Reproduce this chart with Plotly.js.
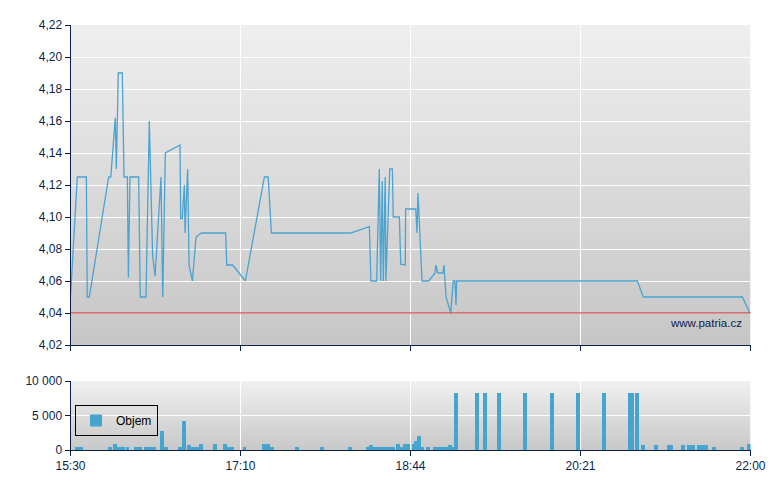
<!DOCTYPE html>
<html>
<head>
<meta charset="utf-8">
<script src="https://cdn.plot.ly/plotly-3.0.1.min.js"></script>
<style>
  html, body { margin: 0; padding: 0; background: #fff; }
  #chart { width: 780px; height: 490px; }
</style>
</head>
<body>
<div id="chart"></div>
<script>
// Price trades: minutes after 15:30 and price.
const priceMinutes = [
  0, 3.9, 9.1, 9.6, 10.8, 21.9, 23.1, 25.7, 26.3, 27.4, 29.7, 30.7, 32.6, 33.2,
  34.1, 39.1, 40.0, 43.3, 45.2, 47.1, 48.5, 51.9, 52.9, 54.4, 62.8, 63.2, 64.1,
  65.3, 65.7, 67.2, 68.0, 69.9, 72.0, 75.0, 89.0, 89.6, 93.0, 100.3, 111.2,
  113.4, 115.2, 160.7, 171.4, 172.3, 175.6, 177.1, 177.9, 178.8, 179.4, 180.5,
  180.9, 183.1, 184.6, 185.1, 188.6, 189.4, 192.0, 192.2, 198.0, 198.7, 199.3,
  201.6, 205.4, 209.1, 209.5, 210.6, 213.6, 214.2, 215.4, 218.1, 219.5, 220.5,
  221.1, 221.5, 325.1, 328.5, 385.3, 389.7
];
const priceValues = [
  4.050, 4.125, 4.125, 4.050, 4.050, 4.125, 4.125, 4.162, 4.130, 4.190, 4.190,
  4.125, 4.125, 4.062, 4.125, 4.125, 4.050, 4.050, 4.160, 4.076, 4.063, 4.125,
  4.050, 4.140, 4.145, 4.099, 4.099, 4.120, 4.090, 4.130, 4.070, 4.060, 4.0875,
  4.090, 4.090, 4.070, 4.070, 4.060, 4.125, 4.125, 4.090, 4.090, 4.094, 4.060,
  4.060, 4.130, 4.060, 4.1225, 4.060, 4.125, 4.060, 4.130, 4.130, 4.100, 4.100,
  4.0705, 4.070, 4.105, 4.105, 4.090, 4.115, 4.060, 4.060, 4.065, 4.070, 4.065,
  4.065, 4.070, 4.050, 4.040, 4.060, 4.060, 4.045, 4.060, 4.060, 4.050, 4.050,
  4.040
];

// Volume bars: minutes after 15:30 and traded volume.
const volumeMinutes = [
  3.7, 6.0, 22.4, 25.5, 27.8, 30.1, 32.7, 37.6, 39.9, 43.3, 45.6, 47.9, 52.5,
  54.8, 62.8, 65.1, 67.7, 70.3, 72.3, 74.8, 82.9, 88.6, 90.6, 92.6, 99.8,
  111.0, 113.3, 115.3, 129.9, 144.2, 160.3, 170.6, 172.3, 174.6, 176.9, 179.2,
  181.5, 183.8, 185.2, 187.8, 189.8, 191.8, 193.6, 197.0, 198.2, 199.9, 201.9,
  205.0, 209.1, 211.4, 213.7, 215.4, 217.4, 219.1, 221.1, 233.1, 237.7, 245.5,
  260.7, 276.2, 291.1, 306.0, 320.6, 322.3, 324.9, 328.3, 335.8, 343.0, 344.7,
  351.3, 354.7, 357.0, 360.5, 362.8, 364.5, 369.1, 385.1, 389.1
];
const volumeValues = [
  430, 430, 430, 900, 430, 430, 430, 430, 430, 430, 430, 430, 2700,
  430, 430, 4200, 720, 430, 430, 900, 900, 900, 430, 430, 430,
  900, 900, 430, 430, 430, 430, 430, 720, 430, 430, 430,
  430, 430, 430, 900, 430, 900, 900, 900, 1300, 2000, 430,
  430, 430, 430, 430, 430, 720, 430, 8200, 8200, 8200, 8200,
  8200, 8200, 8200, 8200, 8200, 8200, 8200, 720, 720, 720, 720,
  720, 720, 720, 720, 720, 720, 430, 430, 900
];

const referencePrice = 4.04;
const timeTickVals = [0, 97.5, 195, 292.5, 390];
const timeTickText = ['15:30', '17:10', '18:44', '20:21', '22:00'];

const navy = '#0a1f4d';
const xDom = [70.5 / 780, 750.5 / 780];
const priceDom = [1 - 345 / 490, 1 - 25 / 490];
const volDom = [1 - 450 / 490, 1 - 381 / 490];

// Grey vertical gradient used as the plot background.
function gradientImage(top, bottom, xd, yd) {
  const svg = '<svg xmlns="http://www.w3.org/2000/svg" width="10" height="100" preserveAspectRatio="none">' +
    '<defs><linearGradient id="g" x1="0" y1="0" x2="0" y2="1">' +
    '<stop offset="0" stop-color="' + top + '"/><stop offset="1" stop-color="' + bottom + '"/>' +
    '</linearGradient></defs><rect width="10" height="100" fill="url(#g)"/></svg>';
  return {
    source: 'data:image/svg+xml;charset=utf-8,' + encodeURIComponent(svg),
    xref: 'paper', yref: 'paper',
    x: xd[0], y: yd[1],
    sizex: xd[1] - xd[0], sizey: yd[1] - yd[0],
    xanchor: 'left', yanchor: 'top',
    sizing: 'stretch', layer: 'below'
  };
}

const data = [
  {
    x: priceMinutes,
    y: priceValues,
    type: 'scatter',
    mode: 'lines',
    line: { color: '#4aa3d0', width: 1.3 },
    showlegend: false,
    hoverinfo: 'skip',
    xaxis: 'x', yaxis: 'y'
  },
  {
    x: volumeMinutes,
    y: volumeValues,
    type: 'bar',
    name: 'Objem',
    width: 2.25,
    marker: { color: '#44a6cf', line: { width: 0 } },
    xaxis: 'x2', yaxis: 'y2'
  }
];

const axisFont = { family: 'Liberation Sans, Arial, sans-serif', size: 12, color: navy };

const xCommon = {
  range: [0, 390],
  tickmode: 'array',
  tickvals: timeTickVals,
  ticktext: timeTickText,
  showgrid: true,
  gridcolor: '#ffffff',
  gridwidth: 1,
  zeroline: false,
  showline: true,
  linecolor: navy,
  linewidth: 1,
  ticks: 'outside',
  ticklen: 5,
  tickcolor: navy,
  tickfont: axisFont,
  domain: xDom,
  fixedrange: true
};

const layout = {
  width: 780,
  height: 490,
  margin: { l: 0, r: 0, t: 0, b: 0 },
  paper_bgcolor: '#ffffff',
  plot_bgcolor: 'rgba(0,0,0,0)',
  separators: ', ',
  font: axisFont,
  xaxis: Object.assign({}, xCommon, { anchor: 'y', showticklabels: false }),
  xaxis2: Object.assign({}, xCommon, { anchor: 'y2', matches: 'x' }),
  yaxis: {
    domain: priceDom,
    anchor: 'x',
    range: [4.02, 4.22],
    dtick: 0.02,
    tick0: 4.02,
    tickformat: '.2f',
    showgrid: true,
    gridcolor: '#ffffff',
    zeroline: false,
    showline: true,
    linecolor: navy,
    ticks: 'outside',
    ticklen: 5,
    tickcolor: navy,
    tickfont: axisFont,
    fixedrange: true
  },
  yaxis2: {
    domain: volDom,
    anchor: 'x2',
    range: [0, 10000],
    tickvals: [0, 5000, 10000],
    tickformat: ',d',
    showgrid: true,
    gridcolor: '#ffffff',
    zeroline: false,
    showline: true,
    linecolor: navy,
    ticks: 'outside',
    ticklen: 5,
    tickcolor: navy,
    tickfont: axisFont,
    fixedrange: true
  },
  images: [
    gradientImage('#efefef', '#c6c6c6', xDom, priceDom),
    gradientImage('#f0f0f0', '#c8c8c8', xDom, volDom)
  ],
  shapes: [
    {
      type: 'line', xref: 'x domain', yref: 'y',
      x0: 0, x1: 1, y0: referencePrice, y1: referencePrice,
      line: { color: '#cc2424', width: 1.2 }
    }
  ],
  annotations: [
    {
      text: 'www.patria.cz',
      xref: 'paper', yref: 'paper',
      x: 743.5 / 780, y: 1 - 323 / 490,
      xanchor: 'right', yanchor: 'middle',
      showarrow: false,
      font: { family: 'Liberation Sans, Arial, sans-serif', size: 11.5, color: navy }
    }
  ],
  showlegend: true,
  legend: {
    x: 75 / 780, y: 1 - 405 / 490,
    xanchor: 'left', yanchor: 'top',
    bgcolor: 'rgba(0,0,0,0)',
    bordercolor: '#000000',
    borderwidth: 1,
    itemwidth: 30,
    font: { family: 'Liberation Sans, Arial, sans-serif', size: 12, color: '#000000' }
  },
  bargap: 0
};

Plotly.newPlot('chart', data, layout, { displayModeBar: false, staticPlot: true });
</script>
</body>
</html>
